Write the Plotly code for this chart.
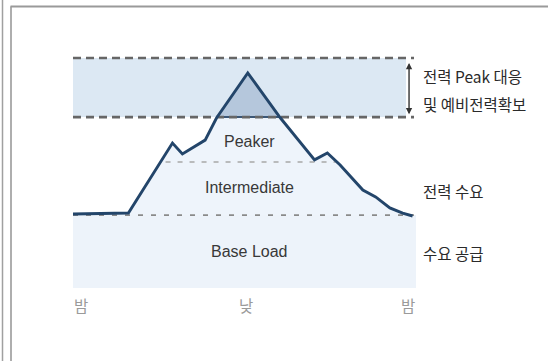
import numpy as np
import plotly.graph_objects as go

# Daily load curve (hour of day vs. relative demand)
hours = [0.0, 3.9, 7.0, 7.7, 9.3, 10.1, 12.3, 14.6, 17.0, 17.9, 18.8, 20.4, 21.3, 22.3, 23.2, 23.9]
demand = [32.2, 32.6, 63.0, 58.3, 64.3, 73.9, 93.5, 73.9, 55.7, 58.7, 53.5, 42.6, 39.6, 34.8, 32.6, 31.3]

# Supply tiers
base_level = 31.7
peaker_level = 54.8
reserve_low = 74.3
reserve_high = 100.0
day_end = 24.0

tier_labels = ["Peaker", "Intermediate", "Base Load"]
tier_label_y = [63.5, 43.5, 15.7]
tier_label_x = 12.45

side_labels = ["전력 Peak 대응", "및 예비전력확보", "전력 수요", "수요 공급"]
side_label_y = [92.2, 80.0, 42.2, 15.2]

time_labels = ["밤", "낮", "밤"]
time_label_x = [0.55, 12.2, 23.6]
time_label_y = -7.4

LATIN = "Liberation Sans, Arial, sans-serif"
HANGUL = "Noto Sans CJK KR, Noto Sans, sans-serif"


def crossings(xs, ys, level):
    pts = []
    for i in range(len(xs) - 1):
        y0, y1 = ys[i] - level, ys[i + 1] - level
        if y0 == 0:
            pts.append(xs[i])
        elif y0 * y1 < 0:
            pts.append(xs[i] + (xs[i + 1] - xs[i]) * (-y0) / (y1 - y0))
    return pts


hx = np.array(hours)
dy = np.array(demand)

fig = go.Figure()

# area under the load curve
fig.add_trace(go.Scatter(
    x=hours + [hours[-1], hours[0]],
    y=demand + [base_level, base_level],
    fill="toself", fillcolor="#eef4fb", mode="none", hoverinfo="skip"))

# peak portion above the reserve band floor
rx = crossings(hours, demand, reserve_low)
above = hx[(hx > rx[0]) & (hx < rx[-1])]
tri_x = [rx[0]] + list(above) + [rx[-1]]
tri_y = [reserve_low] + list(np.interp(above, hx, dy)) + [reserve_low]
fig.add_trace(go.Scatter(
    x=tri_x, y=tri_y, fill="toself", fillcolor="#b5c7dc",
    mode="none", hoverinfo="skip"))
fig.add_trace(go.Scatter(
    x=[rx[0], rx[-1]], y=[reserve_low, reserve_low], mode="lines",
    line=dict(color="#3b5675", width=2), hoverinfo="skip"))

# peaker / intermediate boundary
px_ = crossings(hours, demand, peaker_level)
fig.add_trace(go.Scatter(
    x=[px_[0] + 0.35, px_[-1] - 0.1], y=[peaker_level, peaker_level], mode="lines",
    line=dict(color="#a8a8a8", width=1.5, dash="5px,7px"), hoverinfo="skip"))

# base load boundary
fig.add_trace(go.Scatter(
    x=[0, day_end], y=[base_level, base_level], mode="lines",
    line=dict(color="#8a8a8a", width=1.6, dash="5px,8px"), hoverinfo="skip"))

# reserve band edges
for lvl in (reserve_high, reserve_low):
    fig.add_trace(go.Scatter(
        x=[0, day_end], y=[lvl, lvl], mode="lines",
        line=dict(color="#666666", width=2.6, dash="8px,5px"), hoverinfo="skip"))

# load curve
fig.add_trace(go.Scatter(
    x=hours, y=demand, mode="lines",
    line=dict(color="#23456a", width=2.9), hoverinfo="skip"))

shapes = [
    # base load block
    dict(type="rect", xref="x", yref="y", x0=0, x1=day_end + 0.14, y0=0, y1=base_level,
         fillcolor="#edf3fa", line=dict(width=0), layer="below"),
    # reserve band
    dict(type="rect", xref="x", yref="y", x0=0, x1=day_end - 0.56, y0=reserve_low, y1=reserve_high,
         fillcolor="#dce8f3", line=dict(width=0), layer="below"),
    # frame: top rule and left rules
    dict(type="line", xref="paper", yref="paper", x0=10.5 / 548, x1=1,
         y0=1 - 6.5 / 361, y1=1 - 6.5 / 361, line=dict(color="#9a9a9a", width=2)),
    dict(type="line", xref="paper", yref="paper", x0=11 / 548, x1=11 / 548,
         y0=0, y1=1 - 6.5 / 361, line=dict(color="#9a9a9a", width=1.6)),
    dict(type="line", xref="paper", yref="paper", x0=2.5 / 548, x1=2.5 / 548,
         y0=0, y1=1, line=dict(color="#a0a0a0", width=1.5)),
]

annotations = []
for t, y in zip(tier_labels, tier_label_y):
    annotations.append(dict(x=tier_label_x, y=y, text=t, showarrow=False,
                            font=dict(family=LATIN, size=16, color="#383838"),
                            xanchor="center", yanchor="middle"))
for t, y in zip(side_labels, side_label_y):
    annotations.append(dict(x=day_end + 0.5, y=y, text=t, showarrow=False,
                            font=dict(family=HANGUL, size=15.5, color="#2a2a2a"),
                            xanchor="left", yanchor="middle"))
for t, x in zip(time_labels, time_label_x):
    annotations.append(dict(x=x, y=time_label_y, text=t, showarrow=False,
                            font=dict(family=HANGUL, size=15.5, color="#9a9a9a"),
                            xanchor="center", yanchor="middle"))

# double-headed arrow spanning the reserve band
annotations.append(dict(x=23.65, y=reserve_low + 1.2, ax=23.65, ay=reserve_high - 1.5,
                        xref="x", yref="y", axref="x", ayref="y", text="",
                        showarrow=True, arrowhead=2, arrowside="end+start",
                        arrowsize=0.9, arrowwidth=1.4, arrowcolor="#333333"))

fig.update_layout(
    width=548, height=361, margin=dict(l=0, r=0, t=0, b=0),
    paper_bgcolor="white", plot_bgcolor="white", showlegend=False,
    xaxis=dict(range=[-5.138, 33.43], visible=False, fixedrange=True),
    yaxis=dict(range=[-31.74, 125.22], visible=False, fixedrange=True),
    shapes=shapes, annotations=annotations,
)

fig.write_html("out.html")
